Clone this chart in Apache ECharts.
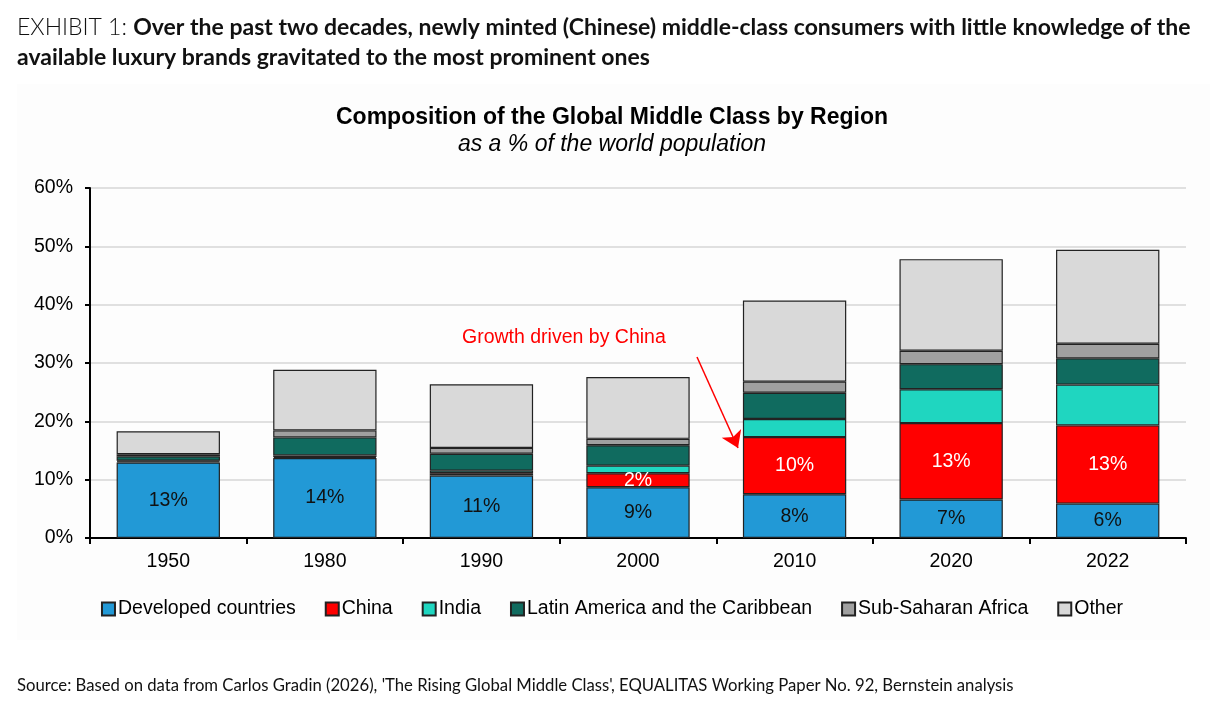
<!DOCTYPE html>
<html>
<head>
<meta charset="utf-8">
<script src="https://cdn.jsdelivr.net/npm/echarts@6/dist/echarts.min.js"></script>
<style>
  html, body { margin: 0; padding: 0; background: #fff; }
  #chart { width: 1224px; height: 714px; }
</style>
</head>
<body>
<div id="chart"></div>
<script>
const years = ["1950", "1980", "1990", "2000", "2010", "2020", "2022"];
const developed = [12.95, 13.7, 10.7, 8.7, 7.5, 6.6, 5.9];
const china = [0.15, 0.2, 0.4, 2.4, 9.8, 13.1, 13.4];
const india = [0.15, 0.25, 0.45, 1.3, 3.1, 5.8, 7.0];
const latam = [0.75, 3.1, 2.9, 3.5, 4.5, 4.3, 4.5];
const ssa = [0.35, 1.2, 1.0, 1.1, 1.9, 2.3, 2.5];
const other = [3.95, 10.4, 10.9, 10.6, 13.9, 15.7, 16.1];
const yTicks = [0, 10, 20, 30, 40, 50, 60];

const chart = echarts.init(document.getElementById("chart"));

const base = "Liberation Sans, Arial, sans-serif";

const seg = (name, data, color, label) => ({
    name: name,
    type: "bar",
    stack: "total",
    barWidth: "66%",
    data: data,
    itemStyle: {
        color: color,
        borderColor: "#222",
        borderWidth: 1.2,
    },
    label: label || { show: false },
});

const pct = (minV, col) => ({
    show: true,
    position: "inside",
    color: col,
    fontSize: 19.5,
    fontFamily: base,
    formatter: (p) => (p.value >= minV ? Math.round(p.value) + "%" : ""),
});

let series = [
    seg("Developed countries", developed, "#2299d6", pct(1, "#111")),
    seg("China", china, "#ff0000", pct(1.5, "#fff")),
    seg("India", india, "#1fd6c0"),
    seg("Latin America and the Caribbean", latam, "#106b5f"),
    seg("Sub-Saharan Africa", ssa, "#a0a0a0"),
    seg("Other", other, "#d9d9d9"),
];

// annotation arrow
series[5].markLine = {
    silent: true,
    symbol: ["none", "arrow"],
    symbolSize: 16,
    label: { show: false },
    lineStyle: { color: "#ff0000", width: 1.5, type: "solid" },
    data: [[{ x: 697, y: 357 }, { x: 738, y: 448 }]],
};

let options = {
    animation: false,
    backgroundColor: "#fff",
    title: [
        {
            left: 12,
            top: 8,
            text: "{a|EXHIBIT 1: }{b|Over the past two decades, newly minted (Chinese) middle-class consumers with little knowledge of the}\n{b|available luxury brands gravitated to the most prominent ones}",
            textStyle: {
                lineHeight: 30,
                rich: {
                    a: { fontFamily: "Lato", fontSize: 23, fontWeight: 300, color: "#111", lineHeight: 30 },
                    b: { fontFamily: "Lato", fontSize: 23, fontWeight: "bold", color: "#111", lineHeight: 30 },
                },
            },
        },
        {
            left: "center",
            top: 101,
            text: "Composition of the Global Middle Class by Region",
            subtext: "as a % of the world population",
            itemGap: 4,
            textStyle: { fontFamily: base, fontSize: 23, fontWeight: "bold", color: "#000" },
            subtextStyle: { fontFamily: base, fontSize: 23, fontStyle: "italic", color: "#000" },
        },
        {
            left: 12,
            top: 672,
            text: "Source: Based on data from Carlos Gradin (2026), 'The Rising Global Middle Class', EQUALITAS Working Paper No. 92, Bernstein analysis",
            textStyle: { fontFamily: "Lato", fontSize: 16.7, fontWeight: "normal", color: "#111" },
        },
    ],
    graphic: [
        {
            type: "rect",
            z: -10,
            silent: true,
            shape: { x: 17, y: 84, width: 1193, height: 556 },
            style: { fill: "#fdfdfd" },
        },
        {
            type: "text",
            left: 462,
            top: 328,
            silent: true,
            style: { text: "Growth driven by China", fill: "#ff0000", font: "19.5px " + base },
        },
    ],
    legend: {
        top: 594,
        left: "center",
        icon: "rect",
        itemWidth: 13,
        itemHeight: 13,
        itemGap: 29,
        textStyle: { fontFamily: base, fontSize: 19.5, color: "#000", padding: [0, 0, 0, -2] },
        data: series.map((s) => s.name),
    },
    grid: {
        left: 90,
        right: 38,
        top: 188,
        bottom: 176,
    },
    xAxis: {
        type: "category",
        data: years,
        axisLine: { show: true, lineStyle: { color: "#000", width: 2 } },
        axisTick: { show: true, length: 6, lineStyle: { color: "#000", width: 2 } },
        axisLabel: { fontFamily: base, fontSize: 19.5, color: "#000", margin: 14 },
    },
    yAxis: {
        type: "value",
        min: yTicks[0],
        max: yTicks[yTicks.length - 1],
        interval: 10,
        axisLine: { show: true, lineStyle: { color: "#000", width: 2 } },
        axisTick: { show: true, length: 5, lineStyle: { color: "#000", width: 2 } },
        axisLabel: { fontFamily: base, fontSize: 19.5, color: "#000", margin: 17, formatter: "{value}%" },
        splitLine: { lineStyle: { color: "#e0e0e0", width: 2 } },
    },
    series: series,
};

chart.setOption(options);
</script>
</body>
</html>
